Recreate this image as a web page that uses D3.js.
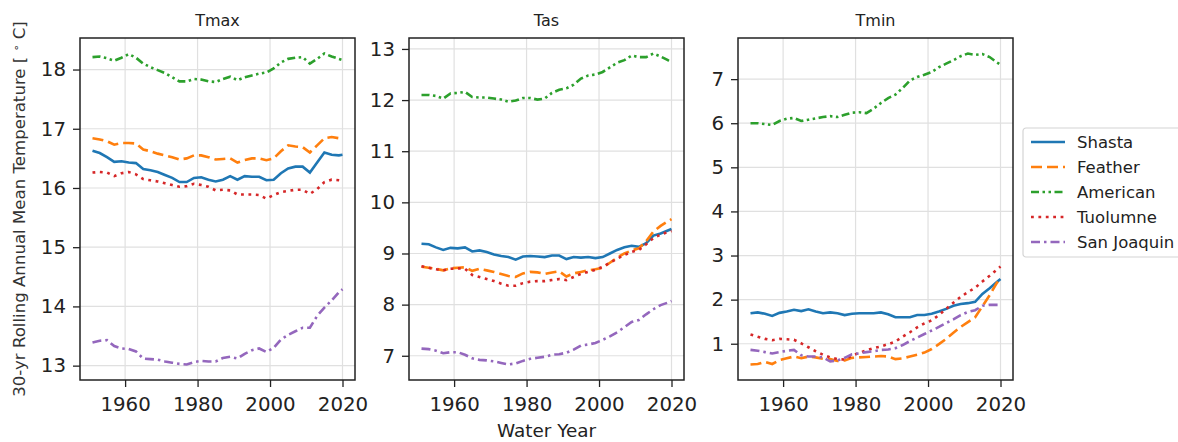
<!DOCTYPE html>
<meta charset="utf-8">
<style>

body {
  margin: 0;
  background: #fff;
  font-family: "DejaVu Sans", sans-serif;
}

svg text {
  fill: #222;
}

.grid line {
  stroke: #e0e0e0;
  stroke-width: 1.2;
}

.frame {
  fill: none;
  stroke: #222;
  stroke-width: 1.5;
}

.axis path {
  display: none;
}

.axis line {
  stroke: #222;
  stroke-width: 1.3;
}

.axis text {
  font: 19.8px "DejaVu Sans";
}

.series {
  fill: none;
  stroke-width: 2.6;
}

.legend-box {
  fill: #fff;
  stroke: #d4d4d4;
  stroke-width: 1.2;
}

</style>

<div id="canvas-svg"></div>

<script src="https://cdnjs.cloudflare.com/ajax/libs/d3/7.8.5/d3.min.js"></script>
<script>
// water years (every other year, plus the last one)
var years = [1951, 1953, 1955, 1957, 1959, 1961, 1963, 1965, 1967, 1969, 1971, 1973,
  1975, 1977, 1979, 1981, 1983, 1985, 1987, 1989, 1991, 1993, 1995, 1997,
  1999, 2001, 2003, 2005, 2007, 2009, 2011, 2013, 2015, 2017, 2019, 2020];

var basins = ["Shasta", "Feather", "American", "Tuolumne", "San Joaquin"];
var titles = ["Tmax", "Tas", "Tmin"];
var xTicks = [1960, 1980, 2000, 2020];
var tmaxTicks = [13, 14, 15, 16, 17, 18];
var tasTicks = [7, 8, 9, 10, 11, 12, 13];
var tminTicks = [1, 2, 3, 4, 5, 6, 7];

// Tmax
var tmaxShasta = [16.63, 16.59, 16.52, 16.44, 16.45, 16.43, 16.42, 16.32, 16.30, 16.27, 16.22, 16.17,
  16.10, 16.10, 16.17, 16.18, 16.14, 16.11, 16.14, 16.20, 16.14, 16.20, 16.19, 16.19,
  16.13, 16.14, 16.25, 16.33, 16.36, 16.36, 16.26, 16.43, 16.60, 16.56, 16.55, 16.56];
var tmaxFeather = [16.84, 16.82, 16.79, 16.73, 16.76, 16.76, 16.75, 16.65, 16.62, 16.58, 16.55, 16.52,
  16.48, 16.50, 16.55, 16.55, 16.52, 16.48, 16.49, 16.50, 16.43, 16.47, 16.50, 16.50,
  16.47, 16.50, 16.62, 16.72, 16.70, 16.69, 16.60, 16.72, 16.84, 16.86, 16.84, 16.85];
var tmaxAmerican = [18.21, 18.22, 18.19, 18.15, 18.20, 18.26, 18.20, 18.10, 18.04, 17.99, 17.94, 17.87,
  17.80, 17.80, 17.84, 17.83, 17.80, 17.79, 17.84, 17.88, 17.82, 17.87, 17.90, 17.93,
  17.95, 18.02, 18.12, 18.18, 18.20, 18.21, 18.10, 18.18, 18.27, 18.22, 18.18, 18.16];
var tmaxTuolumne = [16.26, 16.27, 16.26, 16.20, 16.25, 16.27, 16.23, 16.15, 16.13, 16.11, 16.08, 16.05,
  16.02, 16.03, 16.07, 16.05, 16.02, 15.96, 15.97, 15.96, 15.89, 15.89, 15.89, 15.88,
  15.82, 15.88, 15.93, 15.95, 15.97, 15.97, 15.90, 15.98, 16.10, 16.14, 16.13, 16.12];
var tmaxSanJoaquin = [13.39, 13.42, 13.43, 13.33, 13.29, 13.28, 13.24, 13.12, 13.11, 13.10, 13.07, 13.05,
  13.03, 13.02, 13.06, 13.08, 13.07, 13.07, 13.13, 13.15, 13.12, 13.20, 13.26, 13.29,
  13.23, 13.30, 13.44, 13.52, 13.58, 13.64, 13.64, 13.84, 13.98, 14.10, 14.24, 14.29];

// Tas
var tasShasta = [9.19, 9.18, 9.12, 9.07, 9.11, 9.10, 9.12, 9.04, 9.06, 9.03, 8.98, 8.95,
  8.93, 8.88, 8.94, 8.95, 8.94, 8.93, 8.96, 8.96, 8.89, 8.93, 8.92, 8.93,
  8.91, 8.93, 9.00, 9.07, 9.12, 9.15, 9.13, 9.20, 9.35, 9.39, 9.45, 9.48];
var tasFeather = [8.74, 8.72, 8.70, 8.67, 8.71, 8.72, 8.73, 8.66, 8.70, 8.67, 8.64, 8.60,
  8.56, 8.54, 8.61, 8.64, 8.63, 8.60, 8.63, 8.65, 8.55, 8.61, 8.64, 8.67,
  8.69, 8.72, 8.82, 8.92, 9.00, 9.06, 9.10, 9.24, 9.43, 9.54, 9.63, 9.67];
var tasAmerican = [12.10, 12.10, 12.08, 12.03, 12.13, 12.14, 12.16, 12.06, 12.05, 12.05, 12.03, 12.01,
  11.97, 11.99, 12.04, 12.04, 12.01, 12.03, 12.14, 12.20, 12.23, 12.30, 12.42, 12.48,
  12.50, 12.55, 12.64, 12.73, 12.78, 12.87, 12.84, 12.84, 12.91, 12.85, 12.78, 12.74];
var tasTuolumne = [8.75, 8.72, 8.69, 8.67, 8.70, 8.71, 8.70, 8.58, 8.54, 8.50, 8.46, 8.41,
  8.37, 8.37, 8.42, 8.45, 8.46, 8.46, 8.48, 8.50, 8.48, 8.54, 8.60, 8.64,
  8.68, 8.74, 8.82, 8.90, 8.97, 9.03, 9.07, 9.18, 9.30, 9.37, 9.42, 9.44];
var tasSanJoaquin = [7.14, 7.13, 7.10, 7.05, 7.07, 7.07, 7.02, 6.95, 6.92, 6.91, 6.89, 6.86,
  6.83, 6.85, 6.90, 6.94, 6.96, 6.98, 7.02, 7.03, 7.06, 7.12, 7.20, 7.22,
  7.25, 7.31, 7.38, 7.46, 7.56, 7.66, 7.70, 7.81, 7.91, 7.99, 8.04, 8.07];

// Tmin
var tminShasta = [1.69, 1.71, 1.68, 1.63, 1.70, 1.73, 1.77, 1.74, 1.78, 1.73, 1.69, 1.71,
  1.69, 1.65, 1.68, 1.69, 1.69, 1.69, 1.71, 1.67, 1.60, 1.60, 1.60, 1.65,
  1.65, 1.68, 1.73, 1.79, 1.86, 1.90, 1.92, 1.95, 2.13, 2.26, 2.40, 2.47];
var tminFeather = [0.53, 0.54, 0.59, 0.54, 0.63, 0.67, 0.71, 0.67, 0.71, 0.69, 0.66, 0.65,
  0.61, 0.62, 0.68, 0.69, 0.70, 0.71, 0.72, 0.71, 0.65, 0.67, 0.71, 0.75,
  0.80, 0.88, 0.99, 1.11, 1.25, 1.38, 1.49, 1.60, 1.85, 2.10, 2.38, 2.48];
var tminAmerican = [6.00, 6.00, 5.98, 5.96, 6.05, 6.10, 6.12, 6.05, 6.08, 6.11, 6.14, 6.16,
  6.14, 6.19, 6.24, 6.25, 6.23, 6.33, 6.46, 6.57, 6.65, 6.80, 6.97, 7.05,
  7.10, 7.16, 7.27, 7.35, 7.43, 7.52, 7.58, 7.55, 7.57, 7.50, 7.38, 7.33];
var tminTuolumne = [1.21, 1.16, 1.11, 1.08, 1.11, 1.10, 1.09, 1.01, 0.92, 0.83, 0.75, 0.69,
  0.65, 0.64, 0.73, 0.79, 0.85, 0.90, 0.94, 0.99, 1.05, 1.16, 1.26, 1.37,
  1.46, 1.53, 1.65, 1.79, 1.93, 2.06, 2.17, 2.27, 2.41, 2.54, 2.68, 2.75];
var tminSanJoaquin = [0.86, 0.84, 0.81, 0.78, 0.81, 0.84, 0.86, 0.74, 0.71, 0.71, 0.69, 0.60,
  0.62, 0.68, 0.76, 0.78, 0.81, 0.83, 0.86, 0.87, 0.90, 0.97, 1.06, 1.14,
  1.22, 1.30, 1.38, 1.47, 1.55, 1.65, 1.72, 1.76, 1.86, 1.88, 1.88, 1.88];

var colors = ["#1f77b4", "#ff7f0e", "#2ca02c", "#d62728", "#9467bd"];
var dashes = [null, "11,5", "8,3.5,2.5,3.5,2.5,3.5", "2.8,4.6", "9,4,2.5,4"];

var panels = [
  {title: titles[0], ticks: tmaxTicks, series: [tmaxShasta, tmaxFeather, tmaxAmerican, tmaxTuolumne, tmaxSanJoaquin], left: 80},
  {title: titles[1], ticks: tasTicks, series: [tasShasta, tasFeather, tasAmerican, tasTuolumne, tasSanJoaquin], left: 409},
  {title: titles[2], ticks: tminTicks, series: [tminShasta, tminFeather, tminAmerican, tminTuolumne, tminSanJoaquin], left: 738}
];

var WIDTH = 1178, HEIGHT = 442;
var panelW = 275, plotTop = 38, plotBottom = 380;

var svg = d3.select("#canvas-svg").append("svg")
    .attr("width", WIDTH)
    .attr("height", HEIGHT);

// matplotlib-style 5% margins
function padded(ext) {
  var m = (ext[1] - ext[0]) * 0.05;
  return [ext[0] - m, ext[1] + m];
}

var xDomain = padded(d3.extent(years));

panels.forEach(function(p) {
  var x = d3.scaleLinear().domain(xDomain).range([p.left, p.left + panelW]);
  var all = d3.merge(p.series);
  var y = d3.scaleLinear().domain(padded(d3.extent(all))).range([plotBottom, plotTop]);

  var g = svg.append("g");

  var grid = g.append("g").attr("class", "grid");
  grid.selectAll(".gx").data(xTicks).enter().append("line")
      .attr("x1", function(d) { return x(d); }).attr("x2", function(d) { return x(d); })
      .attr("y1", plotTop).attr("y2", plotBottom);
  grid.selectAll(".gy").data(p.ticks).enter().append("line")
      .attr("x1", p.left).attr("x2", p.left + panelW)
      .attr("y1", function(d) { return y(d); }).attr("y2", function(d) { return y(d); });

  var line = d3.line()
      .x(function(d, i) { return x(years[i]); })
      .y(function(d) { return y(d); });

  p.series.forEach(function(s, i) {
    g.append("path")
        .datum(s)
        .attr("class", "series")
        .attr("stroke", colors[i])
        .attr("stroke-dasharray", dashes[i])
        .attr("d", line);
  });

  g.append("g")
      .attr("class", "axis")
      .attr("transform", "translate(0," + plotBottom + ")")
      .call(d3.axisBottom(x).tickValues(xTicks).tickFormat(d3.format("d")).tickSize(7).tickPadding(10));

  g.append("g")
      .attr("class", "axis")
      .attr("transform", "translate(" + p.left + ",0)")
      .call(d3.axisLeft(y).tickValues(p.ticks).tickFormat(d3.format("d")).tickSize(7).tickPadding(7));

  g.append("rect")
      .attr("class", "frame")
      .attr("x", p.left).attr("y", plotTop)
      .attr("width", panelW).attr("height", plotBottom - plotTop);

  g.append("text")
      .attr("x", p.left + panelW / 2)
      .attr("y", 26)
      .attr("text-anchor", "middle")
      .style("font-size", "16px")
      .text(p.title);
});

// y label
var yl = svg.append("text")
    .attr("transform", "translate(25," + (plotTop + plotBottom) / 2 + ") rotate(-90)")
    .attr("text-anchor", "middle")
    .style("font-size", "16.6px")
    .style("fill", "#333");
yl.append("tspan").text("30-yr Rolling Annual Mean Temperature [ ");
yl.append("tspan").attr("dy", -5).style("font-size", "11px").text("\u2218");
yl.append("tspan").attr("dy", 5).text(" C]");

// x label
svg.append("text")
    .attr("x", (panels[1].left + panelW / 2))
    .attr("y", 437)
    .attr("text-anchor", "middle")
    .style("font-size", "18.4px")
    .text("Water Year");

// legend
var legend = svg.append("g").attr("transform", "translate(1023,128)");
legend.append("rect")
    .attr("class", "legend-box")
    .attr("width", 160).attr("height", 129)
    .attr("rx", 3);

basins.forEach(function(b, i) {
  var row = legend.append("g").attr("transform", "translate(0," + (14 + i * 25) + ")");
  row.append("line")
      .attr("x1", 8).attr("x2", 42)
      .attr("stroke", colors[i])
      .attr("stroke-width", 2.6)
      .attr("stroke-dasharray", dashes[i]);
  row.append("text")
      .attr("x", 54)
      .attr("dy", "0.35em")
      .style("font-size", "16.5px")
      .text(b);
});
</script>
